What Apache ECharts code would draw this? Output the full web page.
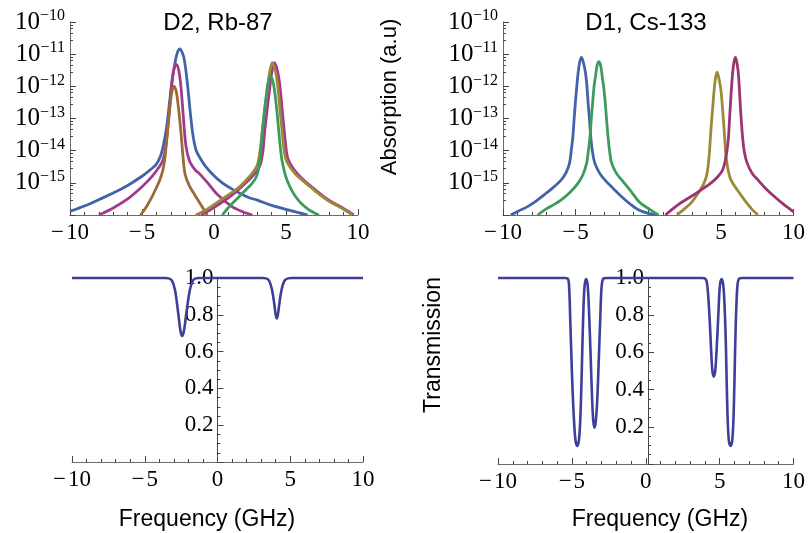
<!DOCTYPE html>
<html><head><meta charset="utf-8">
<script src="https://cdn.jsdelivr.net/npm/echarts@6/dist/echarts.min.js"></script>
<style>html,body{margin:0;padding:0;background:#fff}#c{width:808px;height:533px}</style>
</head><body><div id="c"></div>
<script>
// ---------- data ----------
const xTickValues = [-10, -5, 0, 5, 10];
const titles = ['D2, Rb-87', 'D1, Cs-133'];
const absorptionLabel = 'Absorption (a.u)';
const transmissionLabel = 'Transmission';
const frequencyLabel = 'Frequency (GHz)';

// D2, Rb-87 absorption (x in GHz, absorption in a.u.)
const rbBlue = [[-10,1.29e-16],[-9,1.9e-16],[-8,3.0e-16],[-7,4.8e-16],[-6,8.3e-16],[-5,1.6e-15],[-4.4,2.6e-15],[-4,3.8e-15],[-3.7,7.1e-15],[-3.5,1.6e-14],[-3.3,5.0e-14],[-3.1,2.8e-13],[-2.9,1.6e-12],[-2.7,5.6e-12],[-2.55,1.1e-11],[-2.38,1.45e-11],[-2.2,1.1e-11],[-2.05,6.3e-12],[-1.85,1.26e-12],[-1.62,1.17e-13],[-1.45,2.8e-14],[-1.25,1.05e-14],[-1.0,6.3e-15],[-0.6,3.3e-15],[0,1.66e-15],[0.6,9.8e-16],[1.2,6.6e-16],[1.75,4.8e-16],[2.4,3.5e-16],[3,2.9e-16],[4,2.0e-16],[5,1.5e-16],[5.8,1.2e-16],[6.5,1e-16]];
const rbMagentaA = [[-8,1e-16],[-7,1.66e-16],[-6,3.16e-16],[-5,7.6e-16],[-4.3,1.58e-15],[-3.8,3.16e-15],[-3.55,5.0e-15],[-3.35,1.35e-14],[-3.13,1.17e-13],[-2.95,1e-12],[-2.8,3.16e-12],[-2.62,4.8e-12],[-2.45,3.16e-12],[-2.3,1e-12],[-2.13,1.17e-13],[-1.95,1.41e-14],[-1.7,4.8e-15],[-1.3,2.5e-15],[-1.0,1.9e-15],[-0.4,9.5e-16],[0.2,4.5e-16],[1.2,1.9e-16],[2,1.26e-16],[2.66,1e-16]];
const rbBrown = [[-5.1,1e-16],[-4.7,1.78e-16],[-4.3,3.7e-16],[-4.0,7.1e-16],[-3.75,1.26e-15],[-3.55,2.5e-15],[-3.4,6.3e-15],[-3.25,3.16e-14],[-3.06,2.4e-13],[-2.92,7.1e-13],[-2.78,1e-12],[-2.63,7.1e-13],[-2.48,2.4e-13],[-2.3,3.98e-14],[-2.15,6.3e-15],[-2.0,1.78e-15],[-1.7,7.9e-16],[-1.3,3.98e-16],[-1.0,2.4e-16],[-0.47,1e-16]];
const rbOlive = [[-1.27,1e-16],[-0.5,1.5e-16],[0.12,2.3e-16],[0.8,3.7e-16],[1.5,6.0e-16],[2.1,1.05e-15],[2.66,2.0e-15],[3.0,3.5e-15],[3.2,1e-14],[3.35,3.98e-14],[3.5,1.58e-13],[3.7,7.9e-13],[3.85,2.5e-12],[4.05,5.4e-12],[4.25,3.16e-12],[4.4,1.29e-12],[4.63,1.17e-13],[4.8,2.0e-14],[4.95,6.3e-15],[5.2,3.5e-15],[5.7,1.78e-15],[6.37,9.8e-16],[7.0,5.75e-16],[7.52,3.7e-16],[8.1,2.5e-16],[8.68,1.82e-16],[9.2,1.32e-16],[9.6,1e-16]];
const rbMagentaB = [[-0.9,1e-16],[-0.2,1.5e-16],[0.5,2.4e-16],[1.2,3.98e-16],[1.8,6.8e-16],[2.4,1.2e-15],[2.9,2.1e-15],[3.2,3.5e-15],[3.4,1e-14],[3.52,3.98e-14],[3.67,1.58e-13],[3.86,7.9e-13],[4.0,2.5e-12],[4.2,5.4e-12],[4.4,3.16e-12],[4.55,1.29e-12],[4.78,1.17e-13],[4.95,2.0e-14],[5.1,6.3e-15],[5.35,3.5e-15],[5.85,1.78e-15],[6.45,1e-15],[7.05,6.0e-16],[7.6,3.8e-16],[8.15,2.6e-16],[8.7,1.9e-16],[9.25,1.35e-16],[9.7,1e-16]];
const rbGreen = [[0.58,1e-16],[1.1,1.9e-16],[1.74,3.7e-16],[2.2,6.0e-16],[2.66,9.8e-16],[2.95,1.58e-15],[3.13,3.2e-15],[3.25,1e-14],[3.35,3.5e-14],[3.47,1.26e-13],[3.6,3.98e-13],[3.75,1.26e-12],[3.94,2.04e-12],[4.12,1.26e-12],[4.28,3.9e-13],[4.4,1.26e-13],[4.51,3.5e-14],[4.62,1.12e-14],[4.72,5.0e-15],[4.98,1.58e-15],[5.3,7.1e-16],[5.67,3.7e-16],[6.1,2.2e-16],[6.6,1.45e-16],[7.29,1e-16]];

// D1, Cs-133 absorption
const csBlue = [[-9.47,1e-16],[-8.9,1.35e-16],[-8.31,1.82e-16],[-7.7,2.75e-16],[-7.15,4.3e-16],[-6.55,7.1e-16],[-5.99,1.23e-15],[-5.65,2.1e-15],[-5.42,4.1e-15],[-5.3,1e-14],[-5.19,2.75e-14],[-5.1,1e-13],[-5.02,3.0e-13],[-4.92,1e-12],[-4.83,2.6e-12],[-4.72,5.6e-12],[-4.6,7.9e-12],[-4.47,5.6e-12],[-4.32,2.6e-12],[-4.22,1e-12],[-4.14,3.0e-13],[-4.05,1e-13],[-3.96,2.75e-14],[-3.85,1e-14],[-3.68,4.1e-15],[-3.35,2.0e-15],[-2.99,1.23e-15],[-2.4,6.6e-16],[-1.83,3.7e-16],[-1.25,2.2e-16],[-0.68,1.45e-16],[0,1.12e-16],[0.6,1e-16]];
const csGreen = [[-7.62,1e-16],[-7.0,1.58e-16],[-6.5,2.1e-16],[-5.99,2.95e-16],[-5.4,5.0e-16],[-4.83,9.8e-16],[-4.5,1.78e-15],[-4.24,4.1e-15],[-4.12,1e-14],[-4.01,2.75e-14],[-3.92,1e-13],[-3.83,3.0e-13],[-3.73,1e-12],[-3.63,2.04e-12],[-3.52,4.5e-12],[-3.4,5.9e-12],[-3.28,4.5e-12],[-3.17,2.04e-12],[-3.05,7.9e-13],[-2.94,2.4e-13],[-2.85,7.1e-14],[-2.75,2.2e-14],[-2.65,8.9e-15],[-2.52,4.1e-15],[-2.2,2.0e-15],[-1.83,1.23e-15],[-1.25,5.9e-16],[-0.6,2.5e-16],[0.1,1.5e-16],[0.7,1e-16]];
const csOlive = [[1.97,1e-16],[2.45,1.5e-16],[2.92,2.3e-16],[3.4,4.5e-16],[3.84,9.8e-16],[4.05,2.0e-15],[4.19,6.6e-15],[4.27,2.2e-14],[4.35,7.2e-14],[4.45,2.5e-13],[4.54,7.9e-13],[4.63,1.78e-12],[4.74,2.75e-12],[4.86,1.78e-12],[5.0,7.9e-13],[5.1,2.5e-13],[5.19,7.2e-14],[5.27,2.2e-14],[5.35,6.6e-15],[5.5,2.5e-15],[5.69,1.23e-15],[6.1,6.3e-16],[6.62,2.95e-16],[7.1,1.58e-16],[7.55,1e-16]];
const csMagenta = [[1.18,1e-16],[2.0,2.0e-16],[2.92,3.7e-16],[3.7,6.3e-16],[4.31,9.8e-16],[4.8,1.58e-15],[5.12,2.5e-15],[5.35,6.3e-15],[5.51,2.2e-14],[5.58,7.1e-14],[5.65,2.4e-13],[5.73,8.9e-13],[5.81,2.6e-12],[5.9,5.6e-12],[6.0,7.9e-12],[6.1,5.6e-12],[6.2,2.6e-12],[6.27,8.9e-13],[6.34,2.4e-13],[6.42,7.1e-14],[6.51,2.2e-14],[6.62,8.9e-15],[6.81,4.1e-15],[7.15,2.0e-15],[7.55,1.23e-15],[8.1,6.6e-16],[8.7,3.7e-16],[9.35,2.1e-16],[10,1.26e-16]];

// Transmission
const rbTransmission = [[-10,1],[-3.6,1],[-3.35,0.998],[-3.12,0.985],[-2.92,0.935],[-2.7,0.81],[-2.55,0.715],[-2.43,0.685],[-2.3,0.715],[-2.14,0.81],[-1.9,0.935],[-1.7,0.985],[-1.5,0.998],[-1.3,1],[3.1,1],[3.35,0.998],[3.55,0.985],[3.75,0.935],[3.9,0.86],[4.0,0.8],[4.07,0.78],[4.15,0.8],[4.25,0.86],[4.4,0.935],[4.6,0.985],[4.85,0.998],[5.1,1],[10,1]];
const csTransmission = [[-10,1],[-5.5,1],[-5.3,0.998],[-5.2,0.97],[-5.1,0.75],[-5.0,0.5],[-4.88,0.27],[-4.76,0.13],[-4.64,0.097],[-4.52,0.13],[-4.42,0.26],[-4.33,0.5],[-4.25,0.75],[-4.15,0.95],[-4.04,0.995],[-3.93,0.96],[-3.82,0.78],[-3.73,0.58],[-3.63,0.35],[-3.55,0.23],[-3.47,0.195],[-3.38,0.23],[-3.28,0.35],[-3.17,0.58],[-3.08,0.78],[-2.98,0.96],[-2.85,0.998],[-2.65,1],[3.8,1],[4.0,0.998],[4.15,0.97],[4.31,0.8],[4.42,0.62],[4.51,0.5],[4.6,0.47],[4.7,0.5],[4.8,0.62],[4.91,0.8],[5.02,0.96],[5.13,0.995],[5.25,0.96],[5.35,0.82],[5.43,0.62],[5.52,0.3],[5.62,0.13],[5.74,0.097],[5.86,0.13],[5.96,0.3],[6.05,0.62],[6.12,0.82],[6.22,0.97],[6.35,0.998],[6.55,1],[10,1]];

// ---------- styling ----------
const SERIF = 'Liberation Serif';
const SANS = 'Liberation Sans';
const AX = '#6b6b6b';
const C = {blue:'#4262aa', magenta:'#a13a8f', brown:'#9b6a36', olive:'#9a8a37', green:'#3c9c5b', crimson:'#9c3474', trans:'#3d3f9b'};

function minusFmt(v){ return v < 0 ? '\u2212\u200A' + (-v) : String(v); }

function xAxisCfg(gi){
  return {
    type:'value', gridIndex:gi, min:-10, max:10, interval:5,
    axisLine:{show:true, onZero:false, lineStyle:{color:AX, width:1}},
    axisTick:{show:true, inside:true, length:6, lineStyle:{color:'#444'}},
    minorTick:{show:true, splitNumber:5, length:3, lineStyle:{color:'#444'}},
    splitLine:{show:false}, minorSplitLine:{show:false},
    axisLabel:{formatter:minusFmt, fontFamily:SERIF, fontSize:23, color:'#000', margin:6, showMinLabel:true, showMaxLabel:true, hideOverlap:false}
  };
}
function logYAxisCfg(gi){
  return {
    type:'log', logBase:10, gridIndex:gi, min:1e-16, max:1e-10,
    axisLine:{show:true, onZero:false, lineStyle:{color:AX, width:1}},
    axisTick:{show:true, inside:true, length:6, lineStyle:{color:'#444'}},
    minorTick:{show:true, splitNumber:5, length:3, lineStyle:{color:'#444'}},
    splitLine:{show:false}, minorSplitLine:{show:false},
    axisLabel:{
      margin:5, showMinLabel:true, showMaxLabel:true,
      formatter:function(v){
        const e = Math.round(Math.log10(v));
        if (e <= -16) return '';
        return '{b|10}{s|\u2212' + (-e) + '}';
      },
      rich:{
        b:{fontFamily:SERIF, fontSize:25, color:'#000', lineHeight:28, verticalAlign:'middle'},
        s:{fontFamily:SERIF, fontSize:16, color:'#000', lineHeight:16, verticalAlign:'top'}
      }
    }
  };
}
function linYAxisCfg(gi, zeroOffset){
  return {
    type:'value', gridIndex:gi, min:0, max:1, interval:0.2, offset:zeroOffset,
    axisLine:{show:true, onZero:false, lineStyle:{color:'#444', width:1}},
    axisTick:{show:true, inside:true, length:6, lineStyle:{color:'#444'}},
    minorTick:{show:true, splitNumber:4, length:3, lineStyle:{color:'#444'}},
    splitLine:{show:false}, minorSplitLine:{show:false},
    axisLabel:{formatter:function(v){ return v === 0 ? '' : v.toFixed(1); }, fontFamily:SERIF, fontSize:23, color:'#000', margin:4, showMaxLabel:true}
  };
}
function line(data, gi, color, clip, w){
  return {type:'line', xAxisIndex:gi, yAxisIndex:gi, data:data, showSymbol:false, symbol:'none',
    smooth:0.35, clip:clip, lineStyle:{color:color, width:w||2.8}, emphasis:{disabled:true}};
}

const option = {
  animation:false,
  backgroundColor:'#ffffff',
  title:[
    {text:titles[0], left:213, top:6, textAlign:'center', textStyle:{fontFamily:SANS, fontSize:24, fontWeight:'normal', color:'#000'}},
    {text:titles[1], left:641, top:6, textAlign:'center', textStyle:{fontFamily:SANS, fontSize:24, fontWeight:'normal', color:'#000'}}
  ],
  grid:[
    {left:70, top:22, width:288, height:193},
    {left:503, top:22, width:291, height:193},
    {left:72, top:278, width:291, height:184},
    {left:498, top:278, width:300, height:186}
  ],
  xAxis:[xAxisCfg(0), xAxisCfg(1), xAxisCfg(2), xAxisCfg(3)],
  // bottom y axes sit on x = 0: offset inward by half the grid width
  yAxis:[logYAxisCfg(0), logYAxisCfg(1), linYAxisCfg(2, -145.5), linYAxisCfg(3, -150)],
  series:[
    line(rbBlue,0,C.blue,true),
    line(rbMagentaA,0,C.magenta,true),
    line(rbBrown,0,C.brown,true),
    line(rbMagentaB,0,C.magenta,true),
    line(rbOlive,0,C.olive,true),
    line(rbGreen,0,C.green,true),
    line(csBlue,1,C.blue,true),
    line(csGreen,1,C.green,true),
    line(csOlive,1,C.olive,true),
    line(csMagenta,1,C.crimson,true),
    line(rbTransmission,2,C.trans,false,2.6),
    line(csTransmission,3,C.trans,false,2.6)
  ],
  graphic:[
    {type:'text', x:390, y:97, rotation:Math.PI/2, style:{text:absorptionLabel, font:'22px "Liberation Sans"', fill:'#000', align:'center', verticalAlign:'middle'}},
    {type:'text', x:434, y:345, rotation:Math.PI/2, style:{text:transmissionLabel, font:'23px "Liberation Sans"', fill:'#000', align:'center', verticalAlign:'middle'}},
    {type:'text', x:207, y:520, style:{text:frequencyLabel, font:'23px "Liberation Sans"', fill:'#000', align:'center', verticalAlign:'middle'}},
    {type:'text', x:660, y:520, style:{text:frequencyLabel, font:'23px "Liberation Sans"', fill:'#000', align:'center', verticalAlign:'middle'}}
  ]
};
const chart = echarts.init(document.getElementById('c'), null, {renderer:'canvas'});
chart.setOption(option);
</script>
</body></html>
